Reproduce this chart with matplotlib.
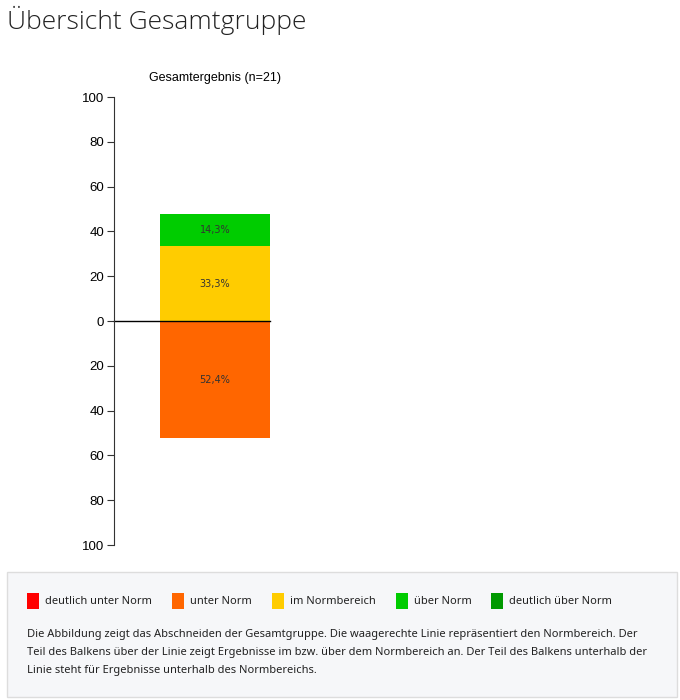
import matplotlib.pyplot as plt
from matplotlib.patches import Rectangle

# data
categories = ['deutlich unter Norm', 'unter Norm', 'im Normbereich', 'über Norm', 'deutlich über Norm']
colors = ['#ff0000', '#ff6600', '#ffcc00', '#00cc00', '#009900']
below_values = [0.0, 52.4]            # deutlich unter, unter (stacked downwards)
above_values = [33.3, 14.3, 0.0]      # im, über, deutlich über (stacked upwards)
tick_values = [100, 80, 60, 40, 20, 0, -20, -40, -60, -80, -100]
tick_labels = ['100', '80', '60', '40', '20', '0', '20', '40', '60', '80', '100']
chart_title = 'Gesamtergebnis (n=21)'

W, H = 680, 700
fig = plt.figure(figsize=(W / 100, H / 100), dpi=100)

# page heading
fig.text(7 / W, 1 - 20 / H, 'Übersicht Gesamtgruppe', fontsize=19, family='Open Sans',
         fontweight='light', color='#222222', va='center', ha='left')

# chart axes (pixel geometry: axis at x=114, y=100 at 97px, y=-100 at 545px)
ax = fig.add_axes([114 / W, 1 - 545 / H, 202 / W, 448 / H])
ax.set_xlim(-1, 1)
ax.set_ylim(-100, 100)
for s in ['top', 'right', 'bottom']:
    ax.spines[s].set_visible(False)
ax.spines['left'].set_color('#333333')
ax.set_xticks([])
ax.set_yticks(tick_values)
ax.set_yticklabels(tick_labels, family='Liberation Sans', fontsize=9.5)
ax.tick_params(axis='y', length=5, color='#333333', pad=2)

bar_w = 110 / 101
bottom = 0
for val, col in zip(above_values, colors[2:]):
    if val > 0:
        ax.bar(0, val, bottom=bottom, width=bar_w, color=col)
        ax.text(0, bottom + val / 2, f'{val:.1f}%'.replace('.', ','), ha='center', va='center',
                fontsize=7, family='DejaVu Sans', color='#333333')
    bottom += val
bottom = 0
for val, col in zip(below_values[::-1], colors[:2][::-1]):
    if val > 0:
        ax.bar(0, -val, bottom=bottom, width=bar_w, color=col)
        ax.text(0, bottom - val / 2, f'{val:.1f}%'.replace('.', ','), ha='center', va='center',
                fontsize=7, family='DejaVu Sans', color='#333333')
    bottom -= val

ax.plot([-1, bar_w / 2], [0, 0], color='black', lw=1, clip_on=False)
ax.text(0, 1.0 + 13 / 448, chart_title, transform=ax.get_xaxis_transform(), ha='center',
        va='bottom', fontsize=9, family='Liberation Sans')

# legend / description box
box = Rectangle((7 / W, 1 - 697 / H), 670 / W, 125 / H, transform=fig.transFigure,
                facecolor='#f6f7f9', edgecolor='#dddddd', lw=1)
fig.patches.append(box)

leg_x = [27, 172, 272, 396, 491]
for x, col, lab in zip(leg_x, colors, categories):
    fig.patches.append(Rectangle((x / W, 1 - 609 / H), 12 / W, 16 / H, transform=fig.transFigure,
                                 facecolor=col, edgecolor='none'))
    fig.text((x + 18) / W, 1 - 601 / H, lab, fontsize=8, family='Noto Sans',
             color='#222222', va='center', ha='left')

desc = ['Die Abbildung zeigt das Abschneiden der Gesamtgruppe. Die waagerechte Linie repräsentiert den Normbereich. Der',
        'Teil des Balkens über der Linie zeigt Ergebnisse im bzw. über dem Normbereich an. Der Teil des Balkens unterhalb der',
        'Linie steht für Ergebnisse unterhalb des Normbereichs.']
for i, line in enumerate(desc):
    fig.text(27 / W, 1 - (634 + 18 * i) / H, line, fontsize=8.0, family='Noto Sans',
             color='#222222', va='center', ha='left')

fig.savefig('out.png', dpi=100, facecolor='white')
